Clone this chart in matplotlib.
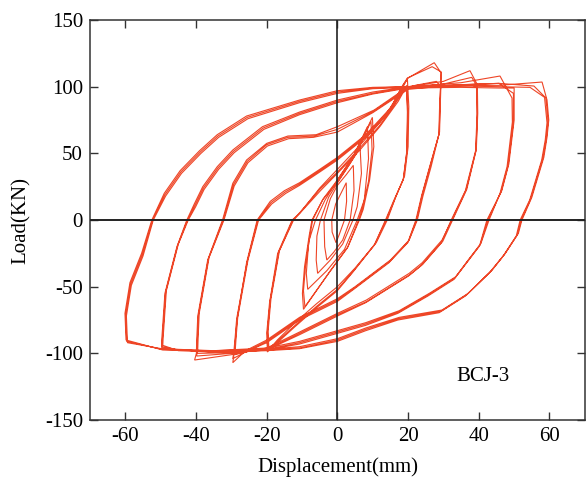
import matplotlib
matplotlib.use("Agg")
import matplotlib.pyplot as plt
import numpy as np

# hysteresis record of specimen BCJ-3, vertices
# small cycles (about 2, 4, 6, 8 and 10 mm)
small_disp = [
    [-1.6, -0.5, 1.0, 2.5, 2.6, 2.0, 0.5, -0.4, -1.5, -1.6],
    [-3.8, -2.0, 0.0, 2.5, 4.5, 4.7, 3.6, 1.5, -1.0, -3.0, -3.6, -3.8],
    [-4.8, -2.5, 0.5, 3.5, 6.4, 6.8, 5.6, 4.4, 1.5, -2.0, -5.6, -6.0, -5.8, -4.8],
    [-6.2, -3.5, 0.5, 4.5, 8.5, 8.8, 7.6, 5.6, 2.0, -3.0, -8.4, -8.8, -8.1, -6.2],
    [-7.2, -4.0, 0.0, 5.0, 9.9, 10.3, 9.1, 7.3, 6.2, 3.0, -2.0, -9.6, -9.9, -9.3, -8.0, -7.2],
    [-7.0, -4.2, 0.2, 5.2, 9.5, 9.8, 8.8, 7.0, 6.0, 2.8, -2.2, -9.2, -9.6, -9.0, -7.8, -7.0],
]
small_load = [
    [0, 12, 20, 28, 14, 0, -11, -17, -9, 0],
    [0, 16, 26, 34, 41, 22, 0, -15, -24, -30, -20, 0],
    [0, 17, 30, 42, 55, 35, 10, 0, -18, -30, -40, -30, -12, 0],
    [0, 15, 32, 48, 70, 46, 15, 0, -22, -38, -52, -40, -16, 0],
    [0, 16, 30, 50, 77, 55, 30, 8, 0, -20, -38, -67, -55, -35, -12, 0],
    [0, 15, 29, 49, 74, 53, 29, 8, 0, -21, -39, -65, -53, -34, -12, 0],
]

disp_20 = [
    [-12.8, -10.7, -5, 0, 6, 12, 17, 19.8, 20.2, 20.0, 19.0, 16.6, 14.1, 11, 5, 0, -6, -12, -17, -19.8, -20.0, -19.2, -16.9, -12.8],
    [-12.6, -10.5, -5, 0, 6, 12, 17, 19.6, 19.9, 19.7, 18.7, 16.3, 13.8, 10.6, 4.6, 0, -6, -12, -17, -19.6, -19.8, -19.0, -16.6, -12.6],
    [-12.4, -10.3, -4.8, 0, 6.2, 12, 17.2, 19.5, 19.8, 19.6, 18.6, 16.0, 13.6, 10.4, 4.4, 0, -6, -12, -17, -19.4, -19.6, -18.8, -16.4, -12.4],
]
load_20 = [
    [0, 5, 24, 38, 55, 73, 92, 106, 85, 55, 33, 18, 0, -17, -36, -50, -63, -77, -90, -99, -85, -62, -25, 0],
    [0, 6, 23, 36, 53, 71, 90, 101, 82, 52, 31, 16, 0, -18, -38, -52, -65, -79, -91, -97, -84, -60, -24, 0],
    [0, 6, 22, 35, 52, 70, 89, 100, 81, 51, 30, 15, 0, -19, -39, -53, -66, -80, -92, -96, -83, -59, -23, 0],
]

disp_30 = [
    [-22.7, -19, -15, -10.7, -5, 0, 8, 15, 18.3, 20, 27.4, 29.3, 29.0, 28.8, 26.5, 24.2, 22.6, 20.3, 15, 11, 5, 0, -10.7, -20, -26, -29.6, -29.2, -28.8, -28.4, -25.7, -22.7],
    [-22.5, -18.8, -14.8, -10.7, -5, 0, 8, 15, 18, 19.8, 26.8, 29.4, 29.1, 28.9, 26.3, 24.0, 22.4, 20.1, 14.8, 10.8, 4.8, 0, -10.7, -20, -26, -29.6, -29.3, -28.9, -28.5, -25.5, -22.5],
    [-22.3, -18.6, -14.6, -10.7, -5, 0, 8, 15, 18.5, 22, 28, 29.2, 28.9, 28.7, 26.1, 23.8, 22.2, 19.9, 14.6, 10.6, 4.6, 0, -10.7, -20, -26, -29.0, -28.9, -28.6, -28.2, -25.3, -22.3],
]
load_30 = [
    [0, 14, 22, 28, 38, 47, 64, 84, 100, 106.5, 118, 110.5, 85, 65, 40, 18, 0, -15, -30, -38, -50, -59, -73, -90, -98, -107, -100, -88, -75, -32, 0],
    [0, 13, 21, 27, 37, 46, 63, 83, 99, 106.5, 115, 111, 86, 66, 41, 19, 0, -16, -31, -39, -51, -60, -74, -91, -99, -104, -99, -87, -74, -31, 0],
    [0, 12, 20, 26, 36, 45, 62, 82, 98, 101, 104, 100, 84, 64, 40, 18, 0, -17, -32, -40, -52, -61, -75, -92, -99, -101, -97, -86, -73, -30, 0],
]

disp_40 = [
    [-32.5, -29.6, -25.7, -20, -14, -6, 0, 10.4, 20, 30, 37.5, 39.5, 39.6, 39.2, 36.4, 32.4, 29.6, 24, 20.3, 8.2, 0, -10.7, -20, -30, -40.4, -39.9, -39.8, -39.5, -36.7, -32.5],
    [-32.3, -29.4, -25.5, -20, -14, -6.5, 0, 10.2, 20, 30, 38, 39.6, 39.7, 39.3, 36.6, 32.6, 29.8, 24.2, 20.5, 8.4, 0, -10.7, -20, -30, -39.8, -39.7, -39.6, -39.3, -36.5, -32.3],
    [-32.1, -29.2, -25.3, -19.8, -13.8, -6.8, 0, 10, 20, 30, 38.5, 39.4, 39.5, 39.1, 36.2, 32.2, 29.4, 23.8, 20.1, 8, 0, -10.7, -20, -30, -39.6, -39.5, -39.4, -39.1, -36.3, -32.1],
]
load_40 = [
    [0, 27.5, 45, 57.5, 63, 64, 70, 82.5, 100, 104, 112, 102, 80, 52, 22.5, 0, -15, -32, -40, -60, -70, -84, -96, -101, -105, -100, -90, -72, -30, 0],
    [0, 26.5, 44, 56.5, 62, 63, 68, 81.5, 99, 102, 107, 100, 80, 53, 23, 0, -16, -33, -41, -61, -71, -85, -97, -100, -102, -98, -89, -71, -29, 0],
    [0, 25.5, 43, 55.5, 61, 62, 66, 80.5, 98, 100.5, 101, 99, 79, 52, 22, 0, -17, -34, -42, -62, -72, -86, -97.5, -99.5, -100, -96, -88, -70, -28, 0],
]

disp_50 = [
    [-42.6, -40.5, -38.1, -34, -29.6, -21.2, -10.7, 0, 10, 20, 35, 46, 49.4, 49.5, 48, 46, 42.9, 40.6, 37, 33.5, 26, 17.5, 8, 0, -10.7, -20, -35, -45, -49.7, -49.7, -48.8, -45.4, -42.6],
    [-42.4, -40.3, -37.9, -33.8, -29.4, -21, -10.7, 0, 10, 20, 35, 45.7, 49.8, 49.8, 48.3, 46.3, 42.6, 40.4, 36.8, 33.2, 25.8, 17.3, 8, 0, -10.7, -20, -35, -45, -49.6, -49.5, -48.6, -45.2, -42.4],
    [-42.2, -40.1, -37.7, -33.6, -29.2, -20.8, -10.7, 0, 10, 20, 35, 45.7, 50, 50, 48.5, 46.5, 42.3, 40.2, 36.6, 33.0, 25.6, 17.1, 8, 0, -10.7, -20, -35, -45, -49.4, -49.3, -48.4, -45.0, -42.2],
]
load_50 = [
    [0, 12, 25, 40, 52.5, 70, 81, 90, 96, 100, 103, 108, 91.5, 73.5, 40, 20, 0, -17.5, -30, -42.5, -55, -68, -77, -83, -91, -96, -98, -97, -96, -90, -55, -20, 0],
    [0, 11, 24, 39, 51.5, 69, 80, 89, 95, 99.5, 101.5, 102.5, 95, 74, 41, 21, 0, -18.5, -31, -43.5, -56, -69, -78, -84, -92, -97, -98.5, -97.5, -95, -89, -54, -19, 0],
    [0, 10, 23, 38, 50.5, 68, 79, 88, 94.5, 99, 99.5, 99, 99, 75, 42, 22, 0, -19.5, -32, -44.5, -57, -70, -79, -85, -93, -97.5, -99, -98, -94, -88, -53, -18, 0],
]

disp_60 = [
    [-52.5, -49, -44.5, -39, -34, -25.7, -10.7, 0, 10, 20, 35, 45.7, 57.9, 59.3, 59.8, 59.3, 58.4, 55, 52.2, 51.2, 47.5, 43.8, 37, 29.6, 17.5, 8, 0, -10.7, -20, -35, -49.4, -59.8, -60.1, -58.7, -55.4, -52.5],
    [-52.3, -48.8, -44.3, -38.8, -33.8, -25.5, -10.7, 0, 10, 20, 35, 45.7, 55.6, 59.0, 59.6, 59.1, 58.1, 54.7, 52.0, 50.9, 47.2, 43.4, 36.6, 29.2, 17.3, 8, 0, -10.7, -20, -35, -49.6, -59.6, -59.9, -58.5, -55.2, -52.3],
    [-52.1, -48.6, -44.1, -38.6, -33.6, -25.3, -10.7, 0, 10, 20, 35, 45.7, 54.5, 58.6, 59.3, 58.8, 57.8, 54.4, 51.7, 50.6, 46.9, 43.0, 36.2, 28.8, 17.1, 8, 0, -10.7, -20, -35, -49.8, -59.4, -59.7, -58.3, -55.0, -52.1],
]
load_60 = [
    [0, 20, 37, 52, 64, 78, 90, 97, 99.5, 100, 101, 101, 103.5, 90, 75, 62, 47, 17, 0, -10, -25, -37.5, -55, -67.5, -73, -81, -89, -95, -97, -98, -97.5, -90, -70, -47, -25, 0],
    [0, 19, 36, 51, 63, 77, 89, 96, 99, 100, 101.5, 102.5, 100.5, 91.5, 74, 61, 46, 16, 0, -11, -26, -38.5, -56, -68.5, -74, -82, -90, -96, -97.5, -98.5, -97, -91, -71, -48, -26, 0],
    [0, 18, 35, 50, 62, 76, 88, 95, 98.5, 99.5, 100.5, 100, 99.5, 92, 73, 60, 45, 15, 0, -12, -27, -39.5, -57, -69.5, -75, -83, -91, -96.5, -98, -99, -96.5, -92, -72, -49, -27, 0],
]

xticks = [-60, -40, -20, 0, 20, 40, 60]
yticks = [-150, -100, -50, 0, 50, 100, 150]

# join everything into one continuous record
all_disp = []
all_load = []
for cyc_d, cyc_p in [(small_disp, small_load), (disp_20, load_20), (disp_30, load_30),
                     (disp_40, load_40), (disp_50, load_50), (disp_60, load_60)]:
    for d, p in zip(cyc_d, cyc_p):
        all_disp += d
        all_load += p

plt.rcParams['font.family'] = ['Liberation Serif', 'DejaVu Serif']
plt.rcParams['axes.unicode_minus'] = False

fig = plt.figure(figsize=(5.87, 4.78), dpi=100)
ax = fig.add_axes([0.1533, 0.1213, 0.843, 0.8368])

ax.plot(all_disp, all_load, color='#EE4526', lw=0.8, solid_joinstyle='miter', zorder=2)
ax.axhline(0, color='#222222', lw=1.4, zorder=3)
ax.axvline(0, color='#222222', lw=1.2, zorder=3)

ax.set_xlim(-70, 70)
ax.set_ylim(-150, 150)
ax.set_xticks(xticks)
ax.set_yticks(yticks)
ax.tick_params(direction='in', top=True, right=True, length=6, width=1,
               labelsize=15, pad=5, color='#333333')
for s in ax.spines.values():
    s.set_linewidth(1.1)
    s.set_color('#333333')

ax.set_xlabel('Displacement(mm)', fontsize=15, labelpad=8)
ax.set_ylabel('Load(KN)', fontsize=15, labelpad=10)
ax.text(41.2, -117, 'BCJ-3', fontsize=15, ha='center', va='center')

fig.savefig('out.png', dpi=100)
